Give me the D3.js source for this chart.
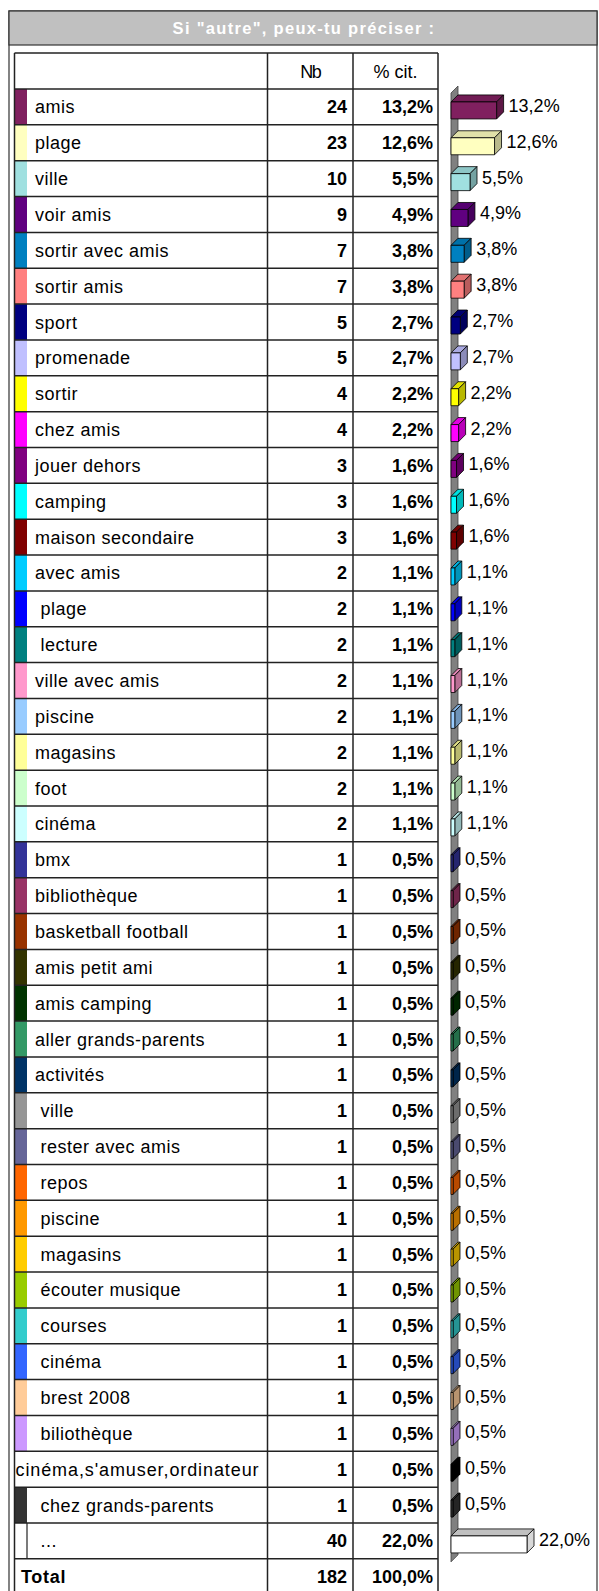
<!DOCTYPE html>
<html><head><meta charset="utf-8">
<script src="https://cdn.jsdelivr.net/npm/d3@7"></script>
<style>
html,body{margin:0;padding:0;background:#fff;}
svg{display:block;}
text{font-family:"Liberation Sans",Arial,sans-serif;white-space:pre;}
</style></head><body>
<svg id="chart" width="599" height="1591"></svg>
<script>
const title = 'Si "autre", peux-tu préciser :';
const headers = ["Nb", "% cit."];
const categories = ["amis","plage","ville","voir amis","sortir avec amis","sortir amis","sport","promenade","sortir","chez amis","jouer dehors","camping","maison secondaire","avec amis"," plage"," lecture","ville avec amis","piscine","magasins","foot","cinéma","bmx","bibliothèque","basketball football","amis petit ami","amis camping","aller grands-parents","activités"," ville"," rester avec amis"," repos"," piscine"," magasins"," écouter musique"," courses"," cinéma"," brest 2008"," biliothèque","cinéma,s'amuser,ordinateur"," chez grands-parents"," ..."];
const counts = [24,23,10,9,7,7,5,5,4,4,3,3,3,2,2,2,2,2,2,2,2,1,1,1,1,1,1,1,1,1,1,1,1,1,1,1,1,1,1,1,40];
const percents = [13.2,12.6,5.5,4.9,3.8,3.8,2.7,2.7,2.2,2.2,1.6,1.6,1.6,1.1,1.1,1.1,1.1,1.1,1.1,1.1,1.1,0.5,0.5,0.5,0.5,0.5,0.5,0.5,0.5,0.5,0.5,0.5,0.5,0.5,0.5,0.5,0.5,0.5,0.5,0.5,22.0];
const colors = ["#80205F","#FFFFC0","#A0E0E0","#600080","#0080C0","#FF8080","#000080","#C0C0FF","#FFFF00","#FF00FF","#800080","#00FFFF","#800000","#00CCFF","#0000FF","#008080","#FF99CC","#99CCFF","#FFFF99","#CCFFCC","#CCFFFF","#333399","#993366","#993300","#333300","#003300","#339966","#003366","#969696","#666699","#FF6600","#FF9900","#FFCC00","#99CC00","#33CCCC","#3366FF","#FFCC99","#CC99FF","#000000","#333333","#FFFFFF"];
const noSwatch = [38];
const totalLabel = "Total";
const totalCount = 182;
const totalPercent = 100.0;

const svg = d3.select("#chart");
const fmtPct = v => d3.format(".1f")(v).replace(".", ",") + "%";
const line = "#222";
const FS = 18;

// frame & header band
const fx0 = 9, fx1 = 597, fy0 = 11;
svg.append("rect").attr("x", fx0).attr("y", fy0).attr("width", fx1 - fx0).attr("height", 1600)
  .attr("fill", "#fff").attr("stroke", "#333").attr("stroke-width", 1.2);
svg.append("rect").attr("x", fx0).attr("y", fy0).attr("width", fx1 - fx0).attr("height", 34)
  .attr("fill", "#C0C0C0").attr("stroke", "#333").attr("stroke-width", 1.2);
svg.append("text").attr("x", (fx0 + fx1) / 2 + 1).attr("y", 34).attr("text-anchor", "middle")
  .attr("fill", "#fff").attr("font-weight", "bold").attr("font-size", 16.5)
  .attr("letter-spacing", "1.3px").text(title);

// table geometry
const tx0 = 14.5, cNb = 267.5, cPct = 353, tx1 = 438;
const headTop = 53, rowH = 35.85;
const nRows = categories.length + 1; // plus total
const y = d3.scaleBand().domain(d3.range(nRows)).range([headTop + 36, headTop + 36 + nRows * rowH]).padding(0);

const g = svg.append("g");
// swatches
categories.forEach((c, i) => {
  if (noSwatch.includes(i)) return;
  g.append("rect").attr("x", tx0).attr("y", y(i)).attr("width", 12.5).attr("height", y.bandwidth())
    .attr("fill", colors[i]);
  if (colors[i] === "#FFFFFF") {
    g.append("line").attr("x1", 27).attr("x2", 27).attr("y1", y(i)).attr("y2", y(i) + y.bandwidth())
      .attr("stroke", line).attr("stroke-width", 1.2);
  }
});

// header row text
svg.append("text").attr("x", (cNb + cPct) / 2).attr("y", headTop + 24.5).attr("text-anchor", "middle")
  .attr("font-size", FS).attr("letter-spacing", "-1.5px").text(headers[0]);
svg.append("text").attr("x", (cPct + tx1) / 2).attr("y", headTop + 24.5).attr("text-anchor", "middle")
  .attr("font-size", FS).text(headers[1]);

// data rows text
categories.forEach((c, i) => {
  const cy = y(i) + y.bandwidth() / 2;
  const lx = noSwatch.includes(i) ? 15.5 : 35;
  g.append("text").attr("x", lx).attr("y", cy + 6.5).attr("font-size", FS).attr("fill", "#000")
    .attr("letter-spacing", noSwatch.includes(i) ? "0.9px" : "0.5px").text(c);
  g.append("text").attr("x", cPct - 6).attr("y", cy + 6.5).attr("text-anchor", "end")
    .attr("font-size", FS).attr("font-weight", "bold").text(counts[i]);
  g.append("text").attr("x", tx1 - 5).attr("y", cy + 6.5).attr("text-anchor", "end")
    .attr("font-size", FS).attr("font-weight", "bold").text(fmtPct(percents[i]));
});
// total row
{
  const i = categories.length;
  const cy = y(i) + y.bandwidth() / 2;
  g.append("text").attr("x", 21).attr("y", cy + 6.5).attr("font-size", FS).attr("font-weight", "bold")
    .attr("letter-spacing", "0.7px").text(totalLabel);
  g.append("text").attr("x", cPct - 6).attr("y", cy + 6.5).attr("text-anchor", "end")
    .attr("font-size", FS).attr("font-weight", "bold").text(totalCount);
  g.append("text").attr("x", tx1 - 5).attr("y", cy + 6.5).attr("text-anchor", "end")
    .attr("font-size", FS).attr("font-weight", "bold").text(fmtPct(totalPercent));
}

// grid lines
const hLines = [headTop].concat(d3.range(nRows).map(i => y(i)));
hLines.forEach(yy => {
  g.append("line").attr("x1", tx0).attr("x2", tx1).attr("y1", yy).attr("y2", yy)
    .attr("stroke", line).attr("stroke-width", 1.5);
});
[tx0, cNb, cPct, tx1].forEach(xx => {
  g.append("line").attr("x1", xx).attr("x2", xx).attr("y1", headTop).attr("y2", 1600)
    .attr("stroke", line).attr("stroke-width", 1.5);
});

// 3D bar chart
const bx0 = 451, depth = 7;
const x = d3.scaleLinear().domain([0, 22]).range([0, 76]);
const wallTop = y(0) + 4, wallBot = y(categories.length - 1) + y.bandwidth() + 3;
svg.append("polygon")
  .attr("points", [[bx0, wallTop], [bx0 + depth, wallTop - depth], [bx0 + depth, wallBot - depth], [bx0, wallBot]].map(p => p.join(",")).join(" "))
  .attr("fill", "#808080").attr("stroke", "#404040").attr("stroke-width", 0.8);

const bars = svg.append("g");
categories.forEach((c, i) => {
  const cy = y(i) + y.bandwidth() / 2;
  const top = cy - 5, h = 17;
  const w = Math.max(x(percents[i]), 2);
  const col = d3.color(colors[i]);
  const topCol = colors[i] === "#FFFFFF" ? "#C0C0C0" : col.darker(0.35);
  const sideCol = colors[i] === "#FFFFFF" ? "#D8D8D8" : col.darker(0.9);
  const bg = bars.append("g").attr("stroke", "#000").attr("stroke-width", 0.8).attr("stroke-linejoin", "round");
  bg.append("polygon").attr("points", [[bx0, top], [bx0 + depth, top - depth], [bx0 + w + depth, top - depth], [bx0 + w, top]].map(p => p.join(",")).join(" "))
    .attr("fill", topCol);
  bg.append("polygon").attr("points", [[bx0 + w, top], [bx0 + w + depth, top - depth], [bx0 + w + depth, top + h - depth], [bx0 + w, top + h]].map(p => p.join(",")).join(" "))
    .attr("fill", sideCol);
  bg.append("rect").attr("x", bx0).attr("y", top).attr("width", w).attr("height", h).attr("fill", colors[i]);
  bars.append("text").attr("x", bx0 + w + depth + 5).attr("y", cy + 5).attr("font-size", FS)
    .text(fmtPct(percents[i]));
});
</script>
</body></html>
